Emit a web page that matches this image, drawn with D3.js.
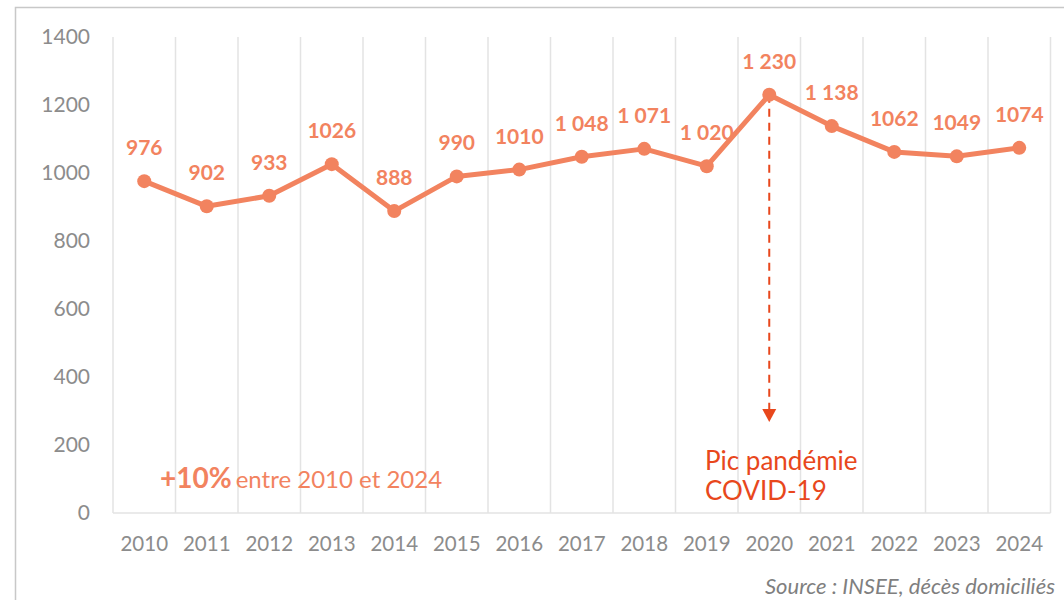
<!DOCTYPE html>
<html><head><meta charset="utf-8">
<script src="https://cdn.jsdelivr.net/npm/d3@7"></script>
<style>body{margin:0;background:#fff}svg{display:block}</style>
</head><body>
<svg id="c" width="1064" height="600"></svg>
<script>
const years = ["2010","2011","2012","2013","2014","2015","2016","2017","2018","2019","2020","2021","2022","2023","2024"];
const deaths = [976,902,933,1026,888,990,1010,1048,1071,1020,1230,1138,1062,1049,1074];
const valueLabels = ["976","902","933","1026","888","990","1010","1 048","1 071","1 020","1 230","1 138","1062","1049","1074"];
const yTicks = [0,200,400,600,800,1000,1200,1400];

const svg = d3.select("#c");
const orange = "#F2835F", red = "#E8471C", gray = "#8C8C8C";
const font = "Lato, 'Open Sans', sans-serif";

svg.append("rect").attr("x",15.5).attr("y",7.5).attr("width",1100).attr("height",700)
  .attr("fill","none").attr("stroke","#c8c8c8").attr("stroke-width",1.5);

const x = d3.scaleBand().domain(years).range([113,1050.5]);
const y = d3.scaleLinear().domain([0,1400]).range([513,37]);

// vertical gridlines
const bounds = years.map(d=>x(d)).concat([x.range()[1]]);
svg.append("g").selectAll("line").data(bounds).join("line")
  .attr("x1",d=>d).attr("x2",d=>d).attr("y1",y(1400)).attr("y2",y(0))
  .attr("stroke","#e3e3e3").attr("stroke-width",1.5);
svg.append("line").attr("x1",113).attr("x2",1050.5).attr("y1",y(0)).attr("y2",y(0))
  .attr("stroke","#e3e3e3").attr("stroke-width",1.5);

// y axis
const ya = svg.append("g").attr("transform","translate(90,0)")
  .call(d3.axisLeft(y).tickValues(yTicks).tickSize(0).tickPadding(0).tickFormat(d3.format("d")));
ya.select(".domain").remove();
ya.selectAll("text").attr("font-family",font).attr("font-size",21).attr("fill",gray);

// x axis
const xa = svg.append("g").attr("transform",`translate(0,${y(0)+23})`)
  .call(d3.axisBottom(x).tickSize(0).tickPadding(0));
xa.select(".domain").remove();
xa.selectAll("text").attr("font-family",font).attr("font-size",20.5).attr("fill",gray);

const cx = d=>x(d)+x.bandwidth()/2;
const data = years.map((d,i)=>({year:d,v:deaths[i],label:valueLabels[i]}));

// annotation dashed arrow
svg.append("line").attr("x1",cx("2020")).attr("x2",cx("2020")).attr("y1",y(1230)).attr("y2",y(300))
  .attr("stroke",red).attr("stroke-width",2).attr("stroke-dasharray","8,6");
svg.append("path").attr("d",`M${cx("2020")-7},${y(300)-2} L${cx("2020")+7},${y(300)-2} L${cx("2020")},${y(300)+11} Z`)
  .attr("fill",red);

// line
svg.append("path").datum(data)
  .attr("d",d3.line().x(d=>cx(d.year)).y(d=>y(d.v)))
  .attr("fill","none").attr("stroke",orange).attr("stroke-width",5).attr("stroke-linejoin","round");
svg.append("g").selectAll("circle").data(data).join("circle")
  .attr("cx",d=>cx(d.year)).attr("cy",d=>y(d.v)).attr("r",7).attr("fill",orange);

svg.append("g").selectAll("text").data(data).join("text")
  .attr("x",d=>cx(d.year)).attr("y",d=>y(d.v)-26)
  .attr("text-anchor","middle").attr("font-family",font).attr("font-weight","bold")
  .attr("font-size",21).attr("fill",orange).text(d=>d.label);

// annotation text
const t = svg.append("text").attr("font-family",font).attr("font-size",26).attr("fill",red);
t.append("tspan").attr("x",705).attr("y",470).text("Pic pandémie");
t.append("tspan").attr("x",705).attr("y",500).text("COVID-19");

const p = svg.append("text").attr("x",160).attr("y",488).attr("font-family",font).attr("fill",orange);
p.append("tspan").attr("font-size",28).attr("font-weight","bold").text("+10%");
p.append("tspan").attr("font-size",24).attr("dx",4).text("entre 2010 et 2024");

svg.append("text").attr("x",1055).attr("y",594).attr("text-anchor","end")
  .attr("font-family",font).attr("font-style","italic").attr("font-size",22).attr("fill","#7f7f7f")
  .text("Source : INSEE, décès domiciliés");
</script>
</body></html>
